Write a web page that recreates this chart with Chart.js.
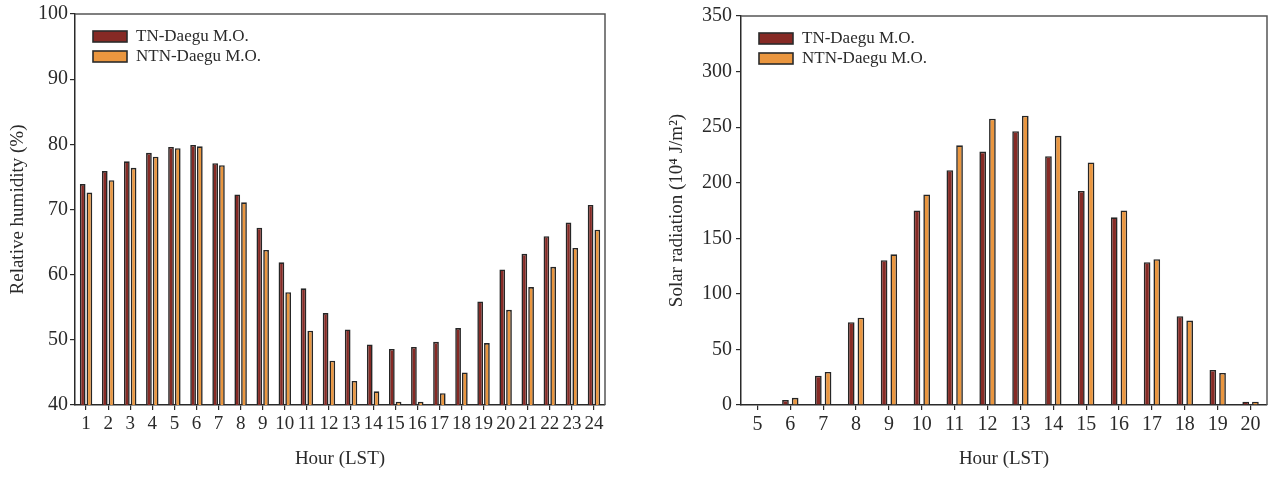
<!DOCTYPE html>
<html>
<head>
<meta charset="utf-8">
<script src="https://cdn.jsdelivr.net/npm/chart.js@4.4.1/dist/chart.umd.min.js"></script>
<style>
  html, body { margin: 0; padding: 0; background: #ffffff; }
  #wrap { position: relative; width: 1274px; height: 477px; overflow: hidden; }
  .panel { position: absolute; top: 0; width: 637px; height: 477px; }
</style>
</head>
<body>
<div id="wrap">
  <div class="panel" style="left:0"><canvas id="rh" width="637" height="477"></canvas></div>
  <div class="panel" style="left:637px"><canvas id="sr" width="637" height="477"></canvas></div>
</div>
<script>
// Hourly relative humidity (%) — tropical-night vs non-tropical-night days
const rhHours = ['1','2','3','4','5','6','7','8','9','10','11','12','13','14','15','16','17','18','19','20','21','22','23','24'];
const rhTN  = [73.9, 75.9, 77.4, 78.7, 79.6, 79.9, 77.1, 72.3, 67.2, 61.9, 57.9, 54.1, 51.6, 49.3, 48.6, 48.9, 49.7, 51.8, 55.9, 60.8, 63.2, 65.9, 68.0, 70.7];
const rhNTN = [72.6, 74.5, 76.4, 78.1, 79.4, 79.7, 76.8, 71.1, 63.8, 57.3, 51.4, 46.8, 43.7, 42.1, 40.5, 40.5, 41.8, 45.0, 49.5, 54.6, 58.1, 61.2, 64.1, 66.9];
const rhTicks = [40, 50, 60, 70, 80, 90, 100];

// Hourly solar radiation (10^4 J/m^2)
const srHours = ['5','6','7','8','9','10','11','12','13','14','15','16','17','18','19','20'];
const srTN  = [0, 4.5, 26.4, 74.5, 130.3, 175.1, 211.3, 228.0, 246.4, 223.8, 192.6, 168.9, 128.5, 79.9, 31.5, 3.0];
const srNTN = [0, 6.5, 29.7, 78.6, 135.6, 189.4, 233.6, 257.6, 260.3, 242.2, 218.2, 175.1, 131.2, 76.0, 28.8, 3.0];
const srTicks = [0, 50, 100, 150, 200, 250, 300, 350];

const seriesNames = ['TN-Daegu M.O.', 'NTN-Daegu M.O.'];
const seriesColors = ['#862a25', '#ea963f'];

const FONT = '"Liberation Serif", "Times New Roman", serif';
const INK = '#2a2a2a';

// Grey frame on the top and right of the plot area
const framePlugin = {
  id: 'frame',
  afterDatasetsDraw(chart) {
    const a = chart.chartArea, ctx = chart.ctx;
    ctx.save();
    ctx.strokeStyle = '#555555';
    ctx.lineWidth = 1.5;
    ctx.beginPath();
    ctx.moveTo(a.left, a.top);
    ctx.lineTo(a.right, a.top);
    ctx.lineTo(a.right, a.bottom);
    ctx.stroke();
    ctx.restore();
  }
};

// Legend drawn inside the plot's upper-left corner
const insideLegend = {
  id: 'insideLegend',
  afterDraw(chart) {
    const a = chart.chartArea, ctx = chart.ctx;
    ctx.save();
    ctx.font = '17px ' + FONT;
    ctx.textBaseline = 'middle';
    chart.data.datasets.forEach((ds, i) => {
      const x = a.left + 18, y = a.top + 17 + i * 20;
      ctx.fillStyle = ds.backgroundColor;
      ctx.fillRect(x, y, 34, 11);
      ctx.strokeStyle = '#2b2b2b';
      ctx.lineWidth = 1.6;
      ctx.strokeRect(x, y, 34, 11);
      ctx.fillStyle = INK;
      ctx.fillText(ds.label, x + 43, y + 5.5);
    });
    ctx.restore();
  }
};

function makeChart(id, labels, a, b, ticks, opt) {
  return new Chart(document.getElementById(id), {
    type: 'bar',
    data: {
      labels: labels,
      datasets: [a, b].map((vals, i) => ({
        label: seriesNames[i],
        data: vals,
        backgroundColor: seriesColors[i],
        borderColor: '#262626',
        borderWidth: 1.6,
        categoryPercentage: opt.cat,
        barPercentage: opt.bar
      }))
    },
    options: {
      responsive: false,
      animation: false,
      layout: { padding: opt.pad },
      plugins: { legend: { display: false }, tooltip: { enabled: false } },
      scales: {
        x: {
          type: 'category',
          offset: true,
          grid: { offset: false, drawOnChartArea: false, drawTicks: true, tickLength: 5, color: INK, lineWidth: 1.2 },
          border: { display: true, color: INK, width: 1.5 },
          ticks: { font: { family: FONT, size: opt.xFont }, color: INK, padding: 3, maxRotation: 0, autoSkip: false },
          title: { display: true, text: 'Hour (LST)', font: { family: FONT, size: 19 }, color: INK, padding: { top: 0, bottom: 7 } },
          afterFit(s) { s.height = 72; }
        },
        y: {
          min: ticks[0],
          max: ticks[ticks.length - 1],
          afterBuildTicks(s) { s.ticks = ticks.map(v => ({ value: v })); },
          grid: { drawOnChartArea: false, drawTicks: true, tickLength: 5, color: INK, lineWidth: 1.2 },
          border: { display: true, color: INK, width: 1.5 },
          ticks: { font: { family: FONT, size: 20 }, color: INK, padding: opt.tickPad },
          title: { display: true, text: opt.yTitle, font: { family: FONT, size: 19 }, color: INK, padding: { top: opt.titleTop, bottom: 0 } },
          afterFit(s) { s.width = opt.yWidth; }
        }
      }
    },
    plugins: [framePlugin, insideLegend]
  });
}

makeChart('rh', rhHours, rhTN, rhNTN, rhTicks, {
  cat: 0.61, bar: 0.85, xFont: 19,
  pad: { top: 13, right: 32, left: 0, bottom: 0 },
  yWidth: 75, tickPad: 2, titleTop: 7,
  yTitle: 'Relative humidity (%)'
});

makeChart('sr', srHours, srTN, srNTN, srTicks, {
  cat: 0.59, bar: 0.69, xFont: 20,
  pad: { top: 12, right: 7, left: 0, bottom: 0 },
  yWidth: 104, tickPad: 4, titleTop: 29,
  yTitle: 'Solar radiation (10\u2074 J/m\u00B2)'
});
</script>
</body>
</html>
